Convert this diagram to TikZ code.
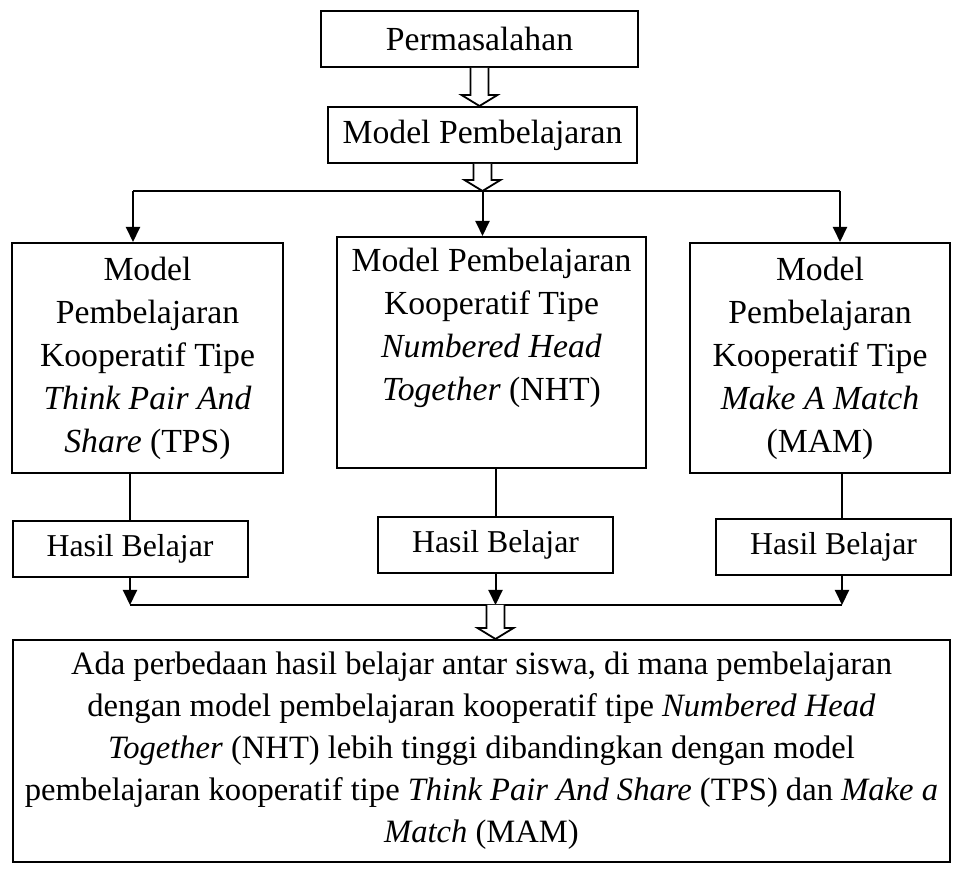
\documentclass[tikz,border=0pt]{standalone}
\usepackage{fontspec}
\setmainfont{Liberation Serif}
\usetikzlibrary{arrows.meta,positioning,calc}
\newcommand{\hollowarrow}[2]{%
  \draw[hollow] ($(#1)+(-9,0)$) -- ($(#2)+(-9,-11)$) -- ($(#2)+(-18,-11)$) -- (#2)
    -- ($(#2)+(18,-11)$) -- ($(#2)+(9,-11)$) -- ($(#1)+(9,0)$);}

\begin{document}
\begin{tikzpicture}[x=0.5pt,y=-0.5pt,>=Triangle,
  font=\fontsize{16.85pt}{21.5pt}\selectfont,
  b/.style={draw,line width=1pt,align=center,inner sep=0pt},
  hasil/.style={b,minimum width=117.5pt,minimum height=28pt,font=\fontsize{15.9pt}{20pt}\selectfont},
  conn/.style={line width=1pt},
  arr/.style={line width=1pt,-{Triangle[length=7.5pt,width=7pt]}},
  hollow/.style={line width=0.9pt,fill=white}]
\useasboundingbox (0,0) rectangle (963,870);
\node[b,minimum width=158.5pt,minimum height=28pt] (perm) at (479.5,39) {Permasalahan};
\node[b,minimum width=154.5pt,minimum height=28pt] (model) at (482.5,135) {Model Pembelajaran};
\node[b,minimum width=135.5pt,minimum height=115pt] (tps) at (147.5,358)
  {Model\\Pembelajaran\\Kooperatif Tipe\\\textit{Think Pair And}\\\textit{Share} (TPS)};
\node[b,minimum width=154.5pt,minimum height=115.5pt] (nht) at (491.5,352.5) {};
\node[align=center,anchor=north,inner sep=0pt] (nhttext) at ([yshift=-6pt]nht.north)
  {Model Pembelajaran\\Kooperatif Tipe\\\textit{Numbered Head}\\\textit{Together} (NHT)};
\node[b,minimum width=130pt,minimum height=115pt] (mam) at (820,358)
  {Model\\Pembelajaran\\Kooperatif Tipe\\\textit{Make A Match}\\(MAM)};
\node[hasil] (h1) at (130,549) {Hasil Belajar};
\node[hasil] (h2) at (495.5,545) {Hasil Belajar};
\node[hasil] (h3) at (833.5,547) {Hasil Belajar};
\node[b,minimum width=468.5pt,minimum height=111pt,font=\fontsize{16.3pt}{21pt}\selectfont] (concl) at (481.5,751)
  {Ada perbedaan hasil belajar antar siswa, di mana pembelajaran\\
   dengan model pembelajaran kooperatif tipe \textit{Numbered Head}\\
   \textit{Together} (NHT) lebih tinggi dibandingkan dengan model\\
   pembelajaran kooperatif tipe \textit{Think Pair And Share} (TPS) dan \textit{Make a}\\
   \textit{Match} (MAM)};
\coordinate (topL) at (133,191);
\coordinate (topR) at (840,191);
\coordinate (busL) at (130,605);
\coordinate (busR) at (842,605);
\draw[conn] (topL) -- (topR);
\draw[arr] (topL) -- (topL |- tps.north);
\draw[arr] (model |- topL) -- (model |- nht.north);
\draw[arr] (topR) -- (topR |- mam.north);
\draw[conn] (tps.south -| h1) -- (h1.north);
\draw[conn] (nht.south -| h2) -- (h2.north);
\draw[conn] (mam.south -| busR) -- (h3.north -| busR);
\draw[arr] (h1.south) -- (h1 |- busL);
\draw[arr] (h2.south) -- (h2 |- busL);
\draw[arr] (h3.south -| busR) -- (busR);
\draw[conn] (h1 |- busL) -- (busR);
\hollowarrow{perm.south}{model.north -| perm}
\hollowarrow{model.south}{model |- topL}
\hollowarrow{h2 |- busL}{h2 |- concl.north}
\end{tikzpicture}
\end{document}
